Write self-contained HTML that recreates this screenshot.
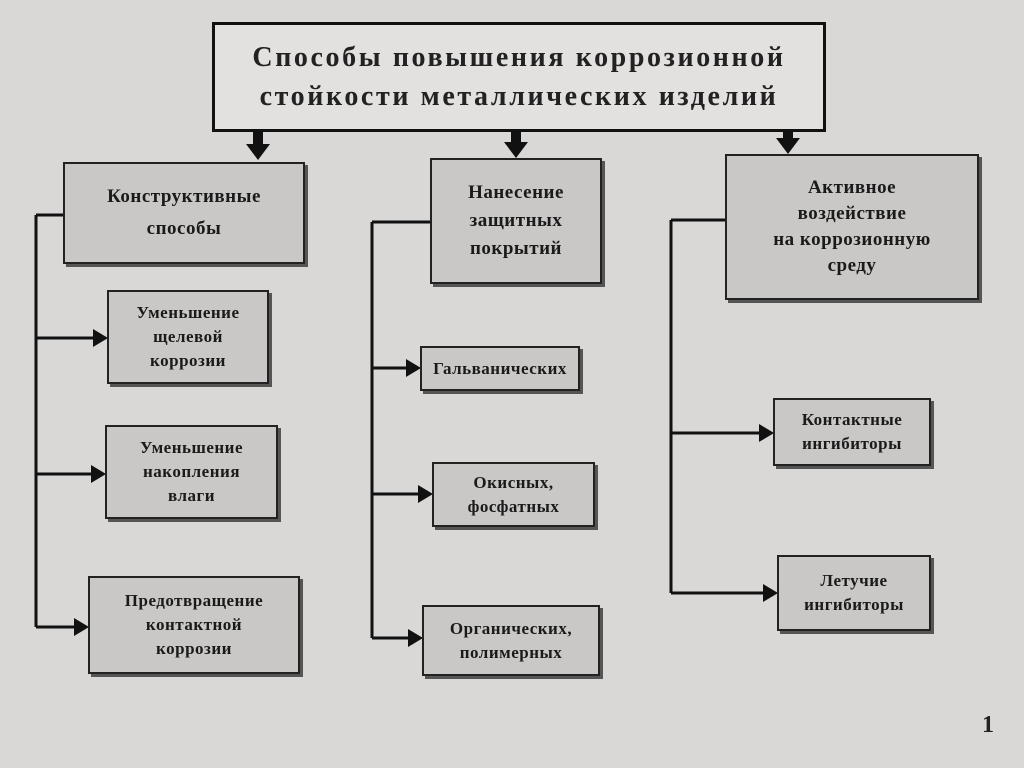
<!DOCTYPE html>
<html><head><meta charset="utf-8"><style>
body{margin:0;width:1024px;height:768px;overflow:hidden;background:#d9d8d6;font-family:"Liberation Serif","DejaVu Serif",serif;}
.b{position:absolute;background:#c9c8c6;border:2px solid #222;box-shadow:3px 3px 0 #555;display:flex;align-items:center;justify-content:center;text-align:center;font-weight:bold;color:#1a1a1a;font-size:17px;line-height:24px;letter-spacing:0.5px;box-sizing:border-box}
svg{position:absolute;left:0;top:0}
</style></head><body>
<svg width="1024" height="768">
<g stroke="#111" stroke-width="3" fill="none">
<line x1="36" y1="215" x2="36" y2="627"/><line x1="36" y1="215" x2="63" y2="215"/>
<line x1="36" y1="338" x2="95" y2="338"/><line x1="36" y1="474" x2="93" y2="474"/><line x1="36" y1="627" x2="76" y2="627"/>
<line x1="372" y1="222" x2="372" y2="638"/><line x1="372" y1="222" x2="430" y2="222"/>
<line x1="372" y1="368" x2="408" y2="368"/><line x1="372" y1="494" x2="420" y2="494"/><line x1="372" y1="638" x2="410" y2="638"/>
<line x1="671" y1="220" x2="671" y2="593"/><line x1="671" y1="220" x2="725" y2="220"/>
<line x1="671" y1="433" x2="761" y2="433"/><line x1="671" y1="593" x2="765" y2="593"/>
</g>
<g fill="#111">
<polygon points="93,329 108,338 93,347"/><polygon points="91,465 106,474 91,483"/><polygon points="74,618 89,627 74,636"/>
<polygon points="406,359 421,368 406,377"/><polygon points="418,485 433,494 418,503"/><polygon points="408,629 423,638 408,647"/>
<polygon points="759,424 774,433 759,442"/><polygon points="763,584 778,593 763,602"/>
<rect x="253" y="132" width="10" height="14"/><polygon points="246,144 270,144 258,160"/>
<rect x="511" y="132" width="10" height="12"/><polygon points="504,142 528,142 516,158"/>
<rect x="783" y="132" width="10" height="8"/><polygon points="776,138 800,138 788,154"/>
</g>
</svg>
<div class="b" style="left:212px;top:22px;width:614px;height:110px;background:#e2e1df;border:3px solid #111;box-shadow:none;font-size:28px;line-height:39px;font-weight:bold;letter-spacing:2.6px;color:#222">Способы повышения коррозионной<br>стойкости металлических изделий</div>
<div class="b" style="left:63px;top:162px;width:242px;height:102px;font-size:19px;line-height:32px">Конструктивные<br>способы</div>
<div class="b" style="left:430px;top:158px;width:172px;height:126px;font-size:19px;line-height:28px">Нанесение<br>защитных<br>покрытий</div>
<div class="b" style="left:725px;top:154px;width:254px;height:146px;font-size:19px;line-height:26px">Активное<br>воздействие<br>на коррозионную<br>среду</div>
<div class="b" style="left:107px;top:290px;width:162px;height:94px">Уменьшение<br>щелевой<br>коррозии</div>
<div class="b" style="left:105px;top:425px;width:173px;height:94px">Уменьшение<br>накопления<br>влаги</div>
<div class="b" style="left:88px;top:576px;width:212px;height:98px">Предотвращение<br>контактной<br>коррозии</div>
<div class="b" style="left:420px;top:346px;width:160px;height:45px">Гальванических</div>
<div class="b" style="left:432px;top:462px;width:163px;height:65px">Окисных,<br>фосфатных</div>
<div class="b" style="left:422px;top:605px;width:178px;height:71px">Органических,<br>полимерных</div>
<div class="b" style="left:773px;top:398px;width:158px;height:68px">Контактные<br>ингибиторы</div>
<div class="b" style="left:777px;top:555px;width:154px;height:76px">Летучие<br>ингибиторы</div>
<div style="position:absolute;left:982px;top:712px;font-size:24px;font-weight:bold;color:#222">1</div>
</body></html>
